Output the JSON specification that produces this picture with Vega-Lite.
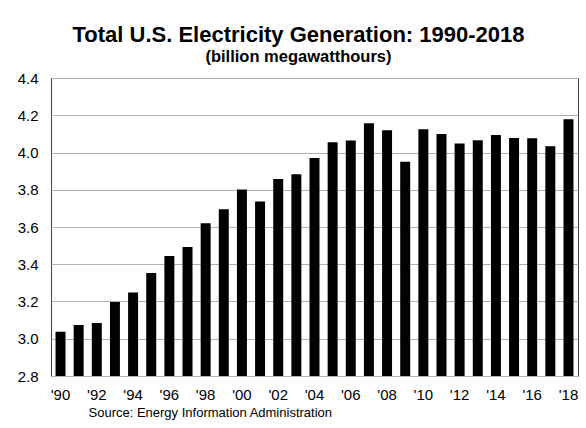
{
  "$schema": "https://vega.github.io/schema/vega-lite/v6.json",
  "width": 527,
  "height": 298,
  "autosize": "none",
  "padding": {"left": 51, "top": 78, "right": 8, "bottom": 52},
  "background": "white",
  "title": {
    "text": "Total U.S. Electricity Generation:  1990-2018",
    "subtitle": "(billion megawatthours)",
    "anchor": "middle",
    "frame": "group",
    "dx": -16,
    "offset": 5,
    "font": "Liberation Sans",
    "fontSize": 22,
    "fontWeight": "bold",
    "color": "black",
    "subtitleFont": "Liberation Sans",
    "subtitleFontSize": 16.5,
    "subtitleFontWeight": "bold",
    "subtitleColor": "black",
    "subtitlePadding": 2
  },
  "data": {
    "values": [
      {"year": 1990, "value": 3.038},
      {"year": 1991, "value": 3.074},
      {"year": 1992, "value": 3.084},
      {"year": 1993, "value": 3.197},
      {"year": 1994, "value": 3.248},
      {"year": 1995, "value": 3.353},
      {"year": 1996, "value": 3.444},
      {"year": 1997, "value": 3.492},
      {"year": 1998, "value": 3.620},
      {"year": 1999, "value": 3.695},
      {"year": 2000, "value": 3.802},
      {"year": 2001, "value": 3.737},
      {"year": 2002, "value": 3.858},
      {"year": 2003, "value": 3.883},
      {"year": 2004, "value": 3.971},
      {"year": 2005, "value": 4.055},
      {"year": 2006, "value": 4.065},
      {"year": 2007, "value": 4.157},
      {"year": 2008, "value": 4.119},
      {"year": 2009, "value": 3.950},
      {"year": 2010, "value": 4.125},
      {"year": 2011, "value": 4.100},
      {"year": 2012, "value": 4.048},
      {"year": 2013, "value": 4.066},
      {"year": 2014, "value": 4.094},
      {"year": 2015, "value": 4.078},
      {"year": 2016, "value": 4.077},
      {"year": 2017, "value": 4.034},
      {"year": 2018, "value": 4.178}
    ]
  },
  "mark": {"type": "bar", "color": "black", "clip": true},
  "encoding": {
    "x": {
      "field": "year",
      "type": "ordinal",
      "scale": {"paddingInner": 0.45, "paddingOuter": 0.25},
      "axis": {
        "labelExpr": "datum.value % 2 === 0 ? \"'\" + substring(toString(datum.value), 2, 4) : ''",
        "labelAngle": 0,
        "labelFont": "Liberation Sans",
        "labelFontSize": 15,
        "labelColor": "black",
        "labelPadding": 11,
        "ticks": false,
        "domain": false,
        "grid": false,
        "title": "Source: Energy Information Administration",
        "titleFont": "Liberation Sans",
        "titleFontSize": 13,
        "titleFontWeight": "normal",
        "titleColor": "black",
        "titleAnchor": "start",
        "titleX": 37,
        "titlePadding": 4
      }
    },
    "y": {
      "field": "value",
      "type": "quantitative",
      "scale": {"domain": [2.8, 4.4], "zero": false, "nice": false},
      "axis": {
        "values": [2.8, 3.0, 3.2, 3.4, 3.6, 3.8, 4.0, 4.2, 4.4],
        "format": ".1f",
        "title": null,
        "labelFont": "Liberation Sans",
        "labelFontSize": 15,
        "labelColor": "black",
        "labelPadding": 13,
        "ticks": false,
        "domain": false,
        "grid": true,
        "gridColor": "#b0b0b0",
        "gridWidth": 1
      }
    }
  },
  "config": {
    "view": {"stroke": "#404040", "strokeWidth": 1}
  }
}
